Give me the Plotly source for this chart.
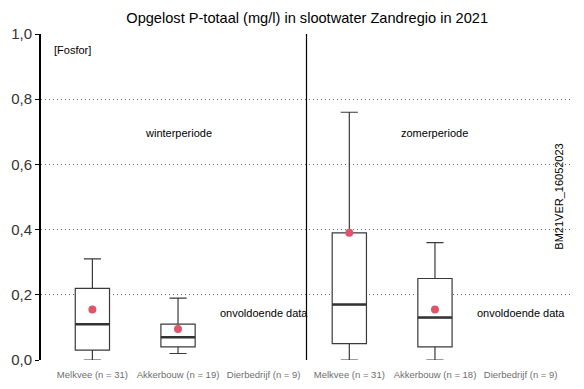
import plotly.graph_objects as go

# Data
groups = ["Melkvee (n = 31)", "Akkerbouw (n = 19)", "Dierbedrijf (n = 9)",
          "Melkvee (n = 31)", "Akkerbouw (n = 18)", "Dierbedrijf (n = 9)"]
positions = [1, 2, 3, 4, 5, 6]
periods = ["winterperiode", "zomerperiode"]
has_data = [True, True, False, True, True, False]
lower = [0.0, 0.02, None, 0.0, 0.0, None]
q1 = [0.03, 0.04, None, 0.05, 0.04, None]
median = [0.11, 0.07, None, 0.17, 0.13, None]
q3 = [0.22, 0.11, None, 0.39, 0.25, None]
upper = [0.31, 0.19, None, 0.76, 0.36, None]
mean = [0.155, 0.095, None, 0.39, 0.155, None]
y_ticks = [0.0, 0.2, 0.4, 0.6, 0.8, 1.0]
y_labels = ["0,0", "0,2", "0,4", "0,6", "0,8", "1,0"]

fig = go.Figure()

for i, p in enumerate(positions):
    if not has_data[i]:
        continue
    fig.add_trace(go.Box(
        x=[p], q1=[q1[i]], median=[median[i]], q3=[q3[i]],
        lowerfence=[lower[i]], upperfence=[upper[i]],
        width=0.4, whiskerwidth=0.5,
        fillcolor="white", line=dict(color="#3a3a3a", width=1.2),
        showlegend=False, hoverinfo="skip",
    ))
    # thicker median
    fig.add_trace(go.Scatter(
        x=[p - 0.2, p + 0.2], y=[median[i], median[i]], mode="lines",
        line=dict(color="#333333", width=2.5), showlegend=False, hoverinfo="skip"))

mx = [p for p, h in zip(positions, has_data) if h]
my = [m for m, h in zip(mean, has_data) if h]
fig.add_trace(go.Scatter(x=mx, y=my, mode="markers",
                         marker=dict(color="#DF536B", size=8),
                         showlegend=False, hoverinfo="skip"))

# divider
fig.add_shape(type="line", x0=3.5, x1=3.5, y0=0, y1=1, xref="x", yref="y",
              line=dict(color="black", width=1.2))

annotations = []
annotations.append(dict(x=0.53, y=0.95, xref="x", yref="y", text="[Fosfor]",
                        showarrow=False, xanchor="left", font=dict(size=11, color="black")))
for per, cx in zip(periods, [2, 5]):
    annotations.append(dict(x=cx, y=0.695, xref="x", yref="y", text=per,
                            showarrow=False, font=dict(size=11, color="black")))
for i, p in enumerate(positions):
    if not has_data[i]:
        annotations.append(dict(x=p, y=0.145, xref="x", yref="y", text="onvoldoende data",
                                showarrow=False, font=dict(size=11, color="black")))
annotations.append(dict(x=0.99, y=0.50, xref="paper", yref="y", text="BM21VER_16052023",
                        showarrow=False, textangle=-90, font=dict(size=11, color="black")))

fig.update_layout(
    width=584, height=389,
    margin=dict(l=41, r=12, t=34, b=29, autoexpand=False),
    paper_bgcolor="white", plot_bgcolor="white",
    font=dict(family="Liberation Sans, Arial, sans-serif"),
    title=dict(text="Opgelost P-totaal (mg/l) in slootwater Zandregio in 2021",
               x=0.526, xanchor="center", y=0.955, yanchor="middle",
               font=dict(size=14.6, color="black")),
    annotations=annotations,
    xaxis=dict(range=[0.4, 6.6], tickvals=positions, ticktext=groups,
               showgrid=False, zeroline=False, showline=False, ticks="",
               automargin=False, ticklabelstandoff=7,
               tickfont=dict(size=9.5, color="#6e6e6e")),
    yaxis=dict(range=[0, 1], tickvals=y_ticks, ticktext=y_labels,
               showgrid=True, gridcolor="#666666", griddash="1px,3px", gridwidth=1,
               zeroline=False, showline=True, linecolor="black", linewidth=2,
               ticks="outside", ticklen=4, tickcolor="black", automargin=False,
               tickfont=dict(size=15, color="#333333")),
)

fig.write_html("out.html", post_script="document.body.style.margin='0';",
               config={"displayModeBar": False})
